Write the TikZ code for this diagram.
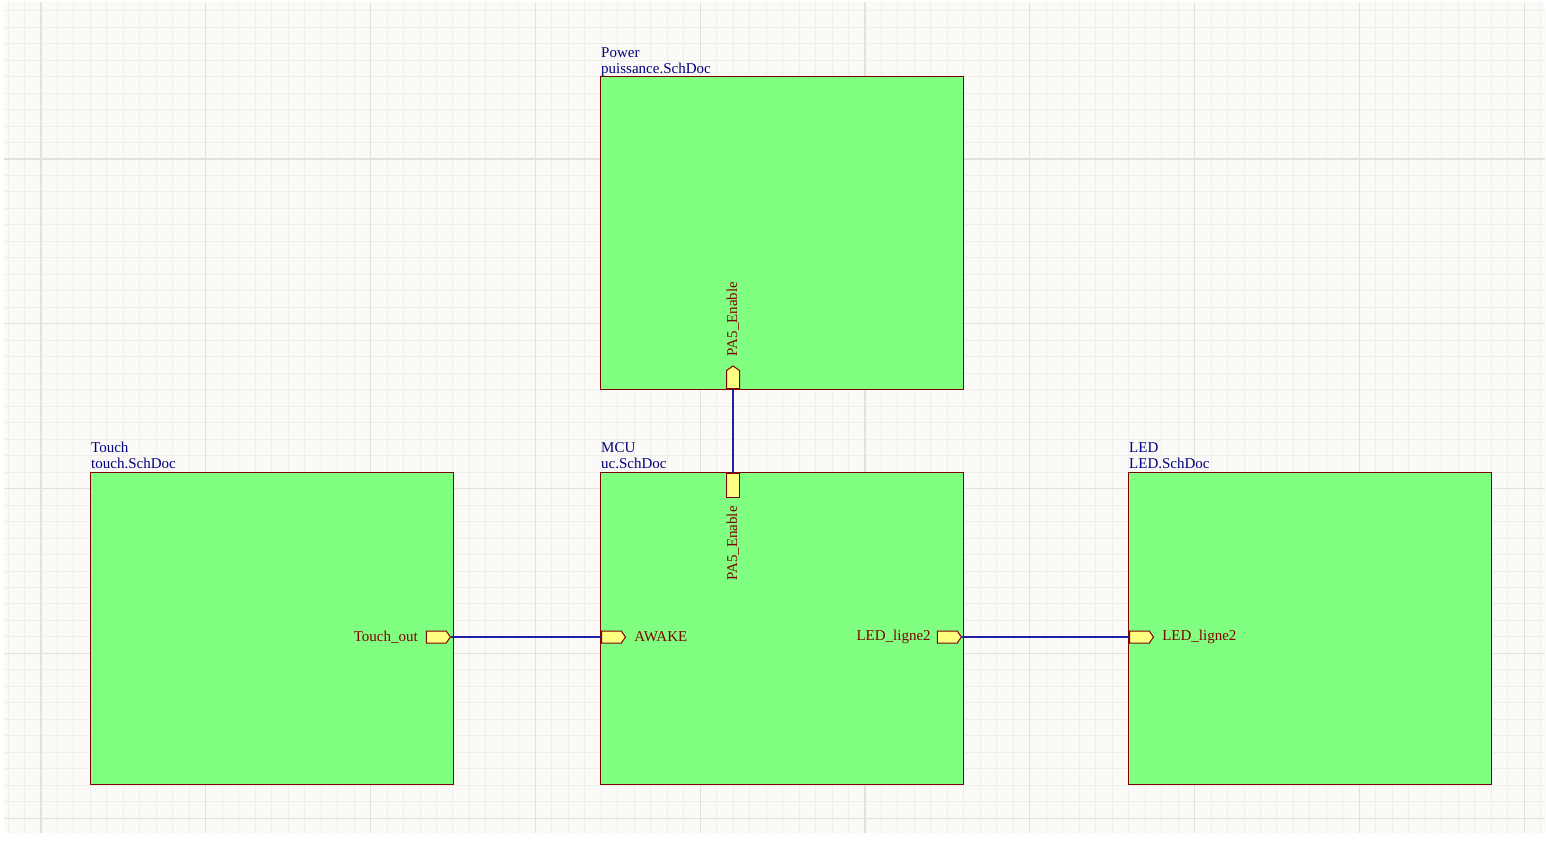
\documentclass[tikz,border=0pt]{standalone}
\usepackage{fontspec}
\setmainfont{Liberation Serif}
\usetikzlibrary{positioning,shapes.symbols,shapes.misc}
\definecolor{sheetbg}{HTML}{FCFAF6}
\definecolor{gridminor}{HTML}{F0EEEA}
\definecolor{gridmajor}{HTML}{E3E1DC}
\definecolor{sheetgreen}{HTML}{80FF80}
\definecolor{sheetred}{HTML}{800000}
\definecolor{netblue}{HTML}{000080}
\definecolor{wireblue}{HTML}{2020A8}
\definecolor{entryyellow}{HTML}{FFFF80}

\begin{document}
\begin{tikzpicture}[
    x=1pt, y=-1pt,
    node distance=8pt,
    every node/.style={font=\fontsize{15}{16.5}\selectfont},
    sheet/.style={draw=sheetred, line width=1.3pt, fill=sheetgreen, inner sep=0pt,
        minimum width=363pt, minimum height=312pt, anchor=north west},
    title/.style={text=netblue, align=left, inner sep=0pt, anchor=south west, yshift=3pt},
    entry/.style={draw=sheetred, line width=1pt, fill=entryyellow, inner sep=0pt},
    hentry/.style={entry, signal, signal to=east, signal pointer angle=110,
        minimum width=24pt, minimum height=12pt},
    entrylbl/.style={text=sheetred, inner sep=0pt},
    wire/.style={draw=wireblue, line width=1.2pt}
]
\useasboundingbox (0,0) rectangle (1546,841);
\fill[white] (0,0) rectangle (1546,841);
\fill[sheetbg] (4,2) rectangle (1545,833);
\begin{scope}[shift={(40.96,159)}]
\draw[gridminor, line width=1pt, step=16.48pt] (-36.96,-157) grid (1504,674);
\draw[gridmajor, line width=1.2pt, step=164.8pt] (-36.96,-157) grid (1504,674);
\end{scope}

% sheet symbols
\node[sheet, minimum height=313pt] (pow) at (600,76) {};
\node[sheet] (touch) at (90,472) {};
\node[sheet] (mcu) at (600,472) {};
\node[sheet] (led) at (1128,472) {};
\node[title, yshift=-4pt] (powT) at ([xshift=1pt]pow.north west) {Power\\puissance.SchDoc};
\node[title] (touchT) at ([xshift=1pt]touch.north west) {Touch\\touch.SchDoc};
\node[title] (mcuT) at ([xshift=1pt]mcu.north west) {MCU\\uc.SchDoc};
\node[title] (ledT) at ([xshift=1pt]led.north west) {LED\\LED.SchDoc};

% sheet entries
\node[hentry, anchor=east] (pTouch) at (451,637) {};
\node[hentry, anchor=west] (pAwake) at (601,637) {};
\node[hentry, anchor=east] (pLedOut) at (962,637) {};
\node[hentry, anchor=west] (pLedIn) at (1129,637) {};
\node[entry, signal, signal to=north, signal pointer angle=110, minimum width=13pt,
    minimum height=18pt, anchor=south] (pPow) at (733,389) {};
\node[entry, chamfered rectangle, chamfered rectangle corners={north west,north east},
    chamfered rectangle xsep=3pt, minimum width=13pt, minimum height=24pt,
    anchor=north] (pMcu) at (733,473) {};

\node[entrylbl, left=8pt of pTouch] (lTouch) {Touch\_out};
\node[entrylbl, right=8pt of pAwake] (lAwake) {AWAKE};
\node[entrylbl, left=6pt of pLedOut] (lLedOut) {LED\_ligne2};
\node[entrylbl, right=8pt of pLedIn] (lLedIn) {LED\_ligne2};
\node[entrylbl, rotate=90, anchor=west] (lPow) at ([yshift=9pt]pPow.north) {PA5\_Enable};
\node[entrylbl, rotate=90, anchor=east] (lMcu) at ([yshift=-8pt]pMcu.south) {PA5\_Enable};

% nets
\draw[wire] (pTouch.east) -- (pAwake.west);
\draw[wire] (pLedOut.east) -- (pLedIn.west);
\draw[wire] (pPow.south) -- (pMcu.north);
\end{tikzpicture}
\end{document}
